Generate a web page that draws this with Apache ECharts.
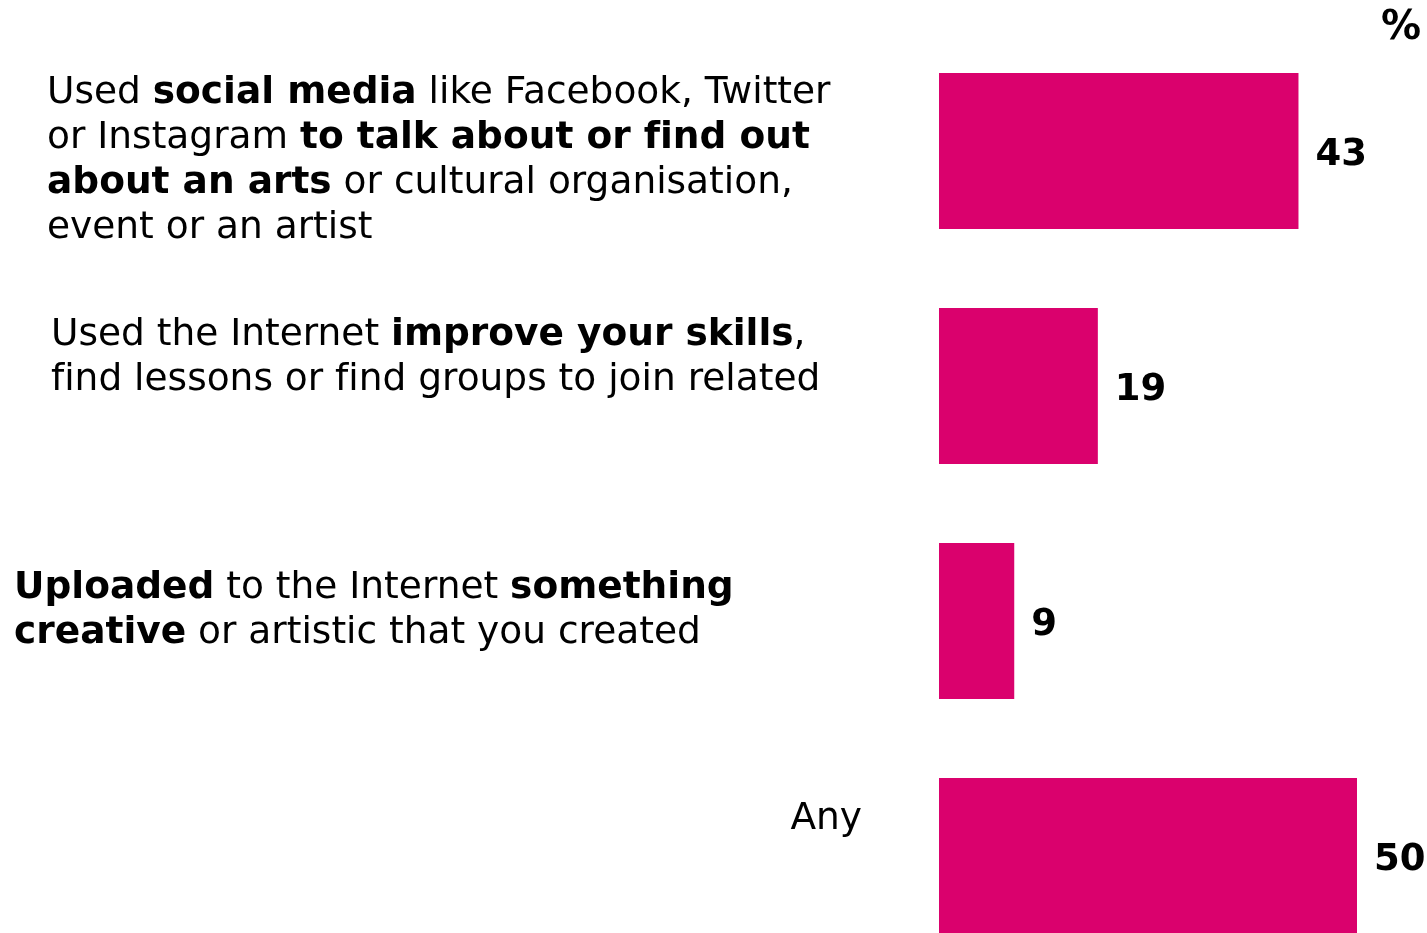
<!DOCTYPE html>
<html>
<head>
<meta charset="utf-8">
<script src="https://cdn.jsdelivr.net/npm/echarts@6/dist/echarts.min.js"></script>
<style>
  html, body { margin: 0; padding: 0; background: #fff; }
  #chart { width: 1427px; height: 933px; }
</style>
</head>
<body>
<div id="chart"></div>
<script>
// Share of respondents who did each online activity (%)
const categories = [
  'Used social media to talk about arts',
  'Used the Internet to improve skills',
  'Uploaded something creative',
  'Any'
];
const values = [43, 19, 9, 50];

// Rich-text label lines for each category: {b|...} marks bold runs
const categoryLabels = [
  [
    'Used {b|social media} like Facebook, Twitter',
    'or Instagram {b|to talk about or find out}',
    '{b|about an arts} or cultural organisation,',
    'event or an artist'
  ],
  [
    'Used the Internet {b|improve your skills},',
    'find lessons or find groups to join related'
  ],
  [
    '{b|Uploaded} to the Internet {b|something}',
    '{b|creative} or artistic that you created'
  ],
  ['Any']
];

const unitLabel = '%';

const FONT = '"DejaVu Sans", Verdana, sans-serif';
const BAR_COLOR = '#DA016D';
const TEXT_SIZE = 37.5;

// placement of each text block relative to its bar's centre
const labelPlacement = [
  { x: 47, dy: -80.5, align: 'left' },
  { x: 51, dy: -73.5, align: 'left' },
  { x: 14, dy: -55.5, align: 'left' },
  { x: 862, dy: -59.5, align: 'right' }
];

// keep "fi"/"fl" as separate letters (no ligature)
function noLigatures(s) {
  return s.replace(/f(?=[il])/g, 'f\u200C');
}

const chart = echarts.init(document.getElementById('chart'));

chart.setOption({
  animation: false,
  backgroundColor: '#ffffff',
  grid: {
    left: 939, width: 418, top: 33.5, height: 940,
    containLabel: false, outerBoundsMode: 'none'
  },
  xAxis: {
    type: 'value', min: 0, max: 50,
    show: false
  },
  yAxis: {
    type: 'category', data: categories, inverse: true,
    axisLine: { show: false }, axisTick: { show: false },
    axisLabel: { show: false }, splitLine: { show: false }
  },
  series: [{
    type: 'bar',
    data: values,
    barWidth: 156,
    itemStyle: { color: BAR_COLOR },
    label: {
      show: true, position: 'right', distance: 17, offset: [0, 4],
      fontFamily: FONT, fontWeight: 'bold', fontSize: 37, color: '#000'
    }
  }]
});

// category text blocks, anchored to the bar positions from the axis scale
const rich = {
  b: { fontFamily: FONT, fontWeight: 'bold', fontSize: TEXT_SIZE, color: '#000', lineHeight: 45 }
};
const graphics = categories.map(function (c, i) {
  const y = chart.convertToPixel({ yAxisIndex: 0 }, c);
  const p = labelPlacement[i];
  return {
    type: 'text',
    x: p.x, y: y + p.dy,
    style: {
      text: noLigatures(categoryLabels[i].join('\n')),
      fontFamily: FONT, fontSize: TEXT_SIZE, fill: '#000', lineHeight: 45,
      align: p.align, verticalAlign: 'top',
      rich: rich
    }
  };
});
graphics.push({
  type: 'text', right: 6, top: 9,
  style: { text: unitLabel, fontFamily: FONT, fontWeight: 'bold', fontSize: 40, fill: '#000' }
});
chart.setOption({ graphic: graphics });
</script>
</body>
</html>
